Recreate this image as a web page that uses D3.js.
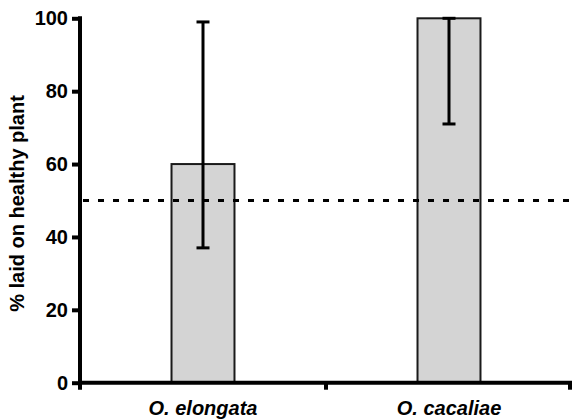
<!DOCTYPE html>
<html>
<head>
<meta charset="utf-8">
<script src="https://cdn.jsdelivr.net/npm/d3@7"></script>
<style>
  body { margin: 0; background: #fff; }
  svg text { font-family: "Liberation Sans", Arial, sans-serif; font-weight: bold; fill: #000; }
</style>
</head>
<body>
<svg id="chart"></svg>
<script>
const species = ['O. elongata', 'O. cacaliae'];
const percentHealthy = [60, 100];
const errLow = [37, 71];
const errHigh = [99, 100];
const yTicks = [0, 20, 40, 60, 80, 100];
const chanceLevel = 50;

const svgDim = { w: 573, h: 420 },
  margin = { l: 80, r: 1, t: 18.3, b: 37.3 },
  $svg = d3.select('#chart').attr('width', svgDim.w).attr('height', svgDim.h);

const xScale = d3.scaleBand()
    .domain(species)
    .range([margin.l, svgDim.w - margin.r]),
  yScale = d3.scaleLinear()
    .domain([0, 100])
    .range([svgDim.h - margin.b, margin.t]);

const barW = xScale.bandwidth() * 0.256;

// bars
$svg.append('g').selectAll('rect')
  .data(species)
  .enter()
  .append('rect')
  .attr('x', (d) => xScale(d) + xScale.bandwidth() / 2 - barW / 2)
  .attr('width', barW)
  .attr('y', (d, i) => yScale(percentHealthy[i]))
  .attr('height', (d, i) => yScale(0) - yScale(percentHealthy[i]))
  .attr('fill', '#d4d4d4')
  .attr('stroke', '#1a1a1a')
  .attr('stroke-width', 2);

// error bars
const capW = 13;
const $err = $svg.append('g').attr('stroke', '#000').attr('stroke-width', 3);
species.forEach((d, i) => {
  const cx = xScale(d) + xScale.bandwidth() / 2;
  $err.append('line')
    .attr('x1', cx).attr('x2', cx)
    .attr('y1', yScale(errLow[i])).attr('y2', yScale(errHigh[i]));
  [errLow[i], errHigh[i]].forEach((v) => {
    $err.append('line')
      .attr('x1', cx - capW / 2).attr('x2', cx + capW / 2)
      .attr('y1', yScale(v)).attr('y2', yScale(v));
  });
});

// chance line
$svg.append('line')
  .attr('x1', margin.l + 2)
  .attr('x2', svgDim.w - margin.r)
  .attr('y1', yScale(chanceLevel))
  .attr('y2', yScale(chanceLevel))
  .attr('stroke', '#000')
  .attr('stroke-width', 3)
  .attr('stroke-dasharray', '6,9')
  .attr('stroke-dashoffset', -1);

// y axis
const $yAxis = $svg.append('g')
  .attr('transform', 'translate(' + margin.l + ',0)')
  .call(d3.axisLeft(yScale).tickValues(yTicks).tickSize(8).tickSizeOuter(0).tickPadding(4));
$yAxis.select('.domain').attr('stroke-width', 4).attr('stroke', '#000');
$yAxis.selectAll('.tick line').attr('stroke-width', 4).attr('stroke', '#000');
$yAxis.selectAll('.tick text').attr('font-size', 20);
$yAxis.select('.domain').attr('d', 'M0,' + (margin.t - 2) + 'V' + (yScale(0) + 7));

// x axis
const $xAxis = $svg.append('g')
  .attr('transform', 'translate(0,' + yScale(0) + ')')
  .call(d3.axisBottom(xScale).tickSize(0).tickSizeOuter(0).tickPadding(18));
$xAxis.select('.domain').attr('stroke-width', 4).attr('stroke', '#000')
  .attr('d', 'M' + (margin.l - 2) + ',0H' + (svgDim.w - margin.r));
$xAxis.selectAll('.tick text').attr('font-size', 20).attr('font-style', 'italic');
const edges = species.map((d) => xScale(d)).concat([xScale.range()[1] - 2]).slice(1);
$xAxis.selectAll('.edge')
  .data(edges)
  .enter()
  .append('line')
  .attr('class', 'edge')
  .attr('x1', (d) => d).attr('x2', (d) => d)
  .attr('y1', 0).attr('y2', 7)
  .attr('stroke', '#000')
  .attr('stroke-width', 4);

// y label
$svg.append('text')
  .text('% laid on healthy plant')
  .attr('text-anchor', 'middle')
  .attr('font-size', 20)
  .attr('transform', 'translate(24,' + 203.5 + ') rotate(-90)');
</script>
</body>
</html>
